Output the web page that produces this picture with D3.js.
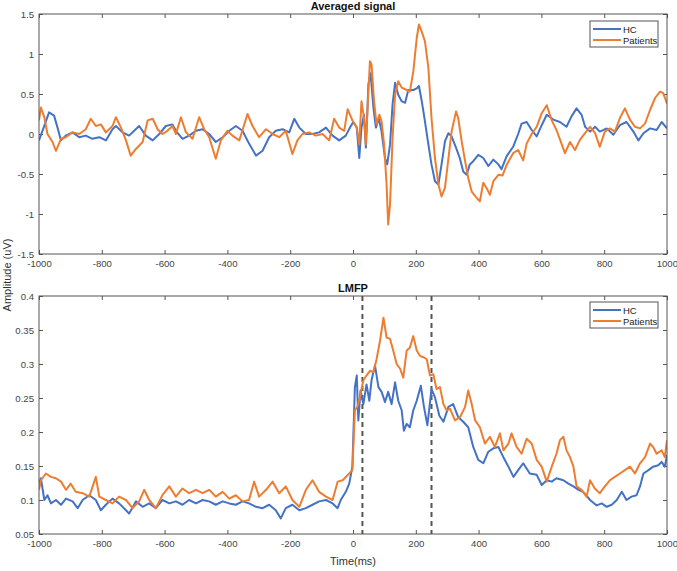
<!DOCTYPE html>
<html><head><meta charset="utf-8">
<script src="https://cdn.jsdelivr.net/npm/d3@7"></script>
<style>body{margin:0;background:#fff;}svg{display:block;font-family:"Liberation Sans",Arial,sans-serif;}</style>
</head><body><svg id="c" width="677" height="571"></svg>
<script>
// ---------- DATA ----------
const xTicks = [-1000,-800,-600,-400,-200,0,200,400,600,800,1000];
const topYTicks = [-1.5,-1,-0.5,0,0.5,1,1.5];
const botYTicks = [0.05,0.1,0.15,0.2,0.25,0.3,0.35,0.4];
const seriesNames = ["HC","Patients"];
const markerTimes = [30,250];

const topHC_t = [-1000,-989,-968,-952,-941,-930,-915,-893,-872,-851,-830,-808,-787,-766,-755,-734,-713,-692,-681,-660,-638,-617,-596,-575,-564,-543,-522,-500,-479,-458,-437,-415,-394,-373,-352,-331,-309,-288,-267,-246,-224,-203,-187,-171,-150,-129,-108,-86,-65,-44,-23,-7,1,12,20,27,35,41,49,56,65,73,82,91,102,109,118,126,134,144,155,166,176,192,203,210,219,229,240,250,261,272,282,293,304,314,328,340,351,362,372,383,399,415,431,447,463,473,489,510,526,537,553,569,585,601,617,638,659,680,696,712,728,739,755,771,786,808,829,850,871,893,909,925,946,967,983,1000];
const topHC_v = [-0.08,0.04,0.27,0.23,0.08,-0.08,-0.02,0.02,-0.04,-0.02,-0.06,-0.04,-0.08,0.06,0.10,0.02,-0.02,0.06,0.10,-0.02,-0.08,0.0,0.10,0.12,0.04,-0.06,-0.02,0.04,0.06,0.0,-0.10,-0.04,0.04,0.10,0.04,-0.12,-0.27,-0.21,-0.04,0.04,0.06,0.02,0.19,0.08,0.0,0.0,0.02,0.08,-0.02,-0.08,-0.02,0.10,0.15,0.08,-0.30,0.08,0.24,-0.17,0.62,0.76,0.33,0.08,0.20,0.03,-0.30,-0.38,-0.13,0.37,0.64,0.49,0.41,0.39,0.55,0.55,0.57,0.60,0.41,0.16,-0.13,-0.38,-0.59,-0.63,-0.38,-0.09,0.01,-0.03,-0.17,-0.30,-0.47,-0.51,-0.38,-0.34,-0.26,-0.30,-0.40,-0.32,-0.38,-0.44,-0.28,-0.16,0.0,0.13,0.15,0.05,-0.03,0.11,0.24,0.18,0.15,0.09,0.22,0.32,0.24,0.09,0.03,0.09,0.03,0.07,-0.01,0.11,0.15,0.03,-0.08,0.01,0.07,0.05,0.15,0.07];

const topPT_t = [-1000,-994,-983,-973,-957,-946,-930,-915,-893,-872,-851,-835,-819,-803,-787,-766,-755,-739,-723,-708,-692,-670,-654,-638,-622,-607,-591,-575,-564,-548,-532,-511,-490,-474,-458,-437,-421,-400,-384,-362,-336,-320,-299,-277,-256,-235,-214,-193,-177,-161,-140,-118,-97,-76,-60,-44,-28,-17,-2,12,20,27,35,41,49,54,59,67,75,84,91,99,107,112,118,126,134,144,155,171,181,192,203,210,219,229,240,250,261,272,282,293,304,314,328,335,346,357,367,378,394,404,415,426,436,447,463,476,490,510,526,542,553,569,585,601,617,633,648,664,675,691,707,723,739,755,771,786,802,818,834,850,866,882,898,914,930,946,962,978,988,1000];
const topPT_v = [0.17,0.33,0.21,0.0,-0.10,-0.21,-0.06,-0.04,0.02,0.0,0.06,0.19,0.10,0.12,0.02,0.10,0.21,0.08,-0.08,-0.27,-0.19,-0.10,0.17,0.19,0.06,0.0,0.04,0.10,0.0,0.21,0.02,-0.06,0.21,0.06,-0.04,-0.31,-0.08,0.04,-0.02,-0.08,0.25,0.10,-0.04,0.06,0.0,-0.04,0.04,-0.25,-0.08,0.0,0.02,-0.02,0.0,-0.08,0.19,0.08,0.04,0.31,0.17,0.08,-0.13,0.41,0.20,-0.13,0.53,0.91,0.87,0.41,0.12,0.24,0.16,-0.13,-0.63,-1.13,-0.88,-0.05,0.49,0.66,0.58,0.55,0.53,0.78,1.20,1.37,1.28,1.16,0.83,0.20,-0.30,-0.63,-0.78,-0.67,-0.30,0.03,0.28,0.20,-0.09,-0.34,-0.55,-0.72,-0.80,-0.84,-0.61,-0.68,-0.76,-0.59,-0.51,-0.52,-0.38,-0.24,-0.20,-0.33,-0.12,0.0,0.09,0.26,0.36,0.17,0.05,-0.12,-0.24,-0.10,-0.20,-0.07,0.01,0.09,0.01,-0.16,0.03,0.07,0.03,0.20,0.32,0.18,0.09,0.07,0.13,0.30,0.45,0.53,0.51,0.38];

const botHC_t = [-1000,-994,-983,-973,-962,-946,-930,-914,-893,-877,-861,-840,-819,-803,-787,-766,-745,-723,-713,-691,-670,-649,-628,-607,-585,-564,-543,-522,-500,-479,-458,-437,-415,-394,-373,-352,-331,-309,-288,-267,-246,-230,-214,-193,-171,-150,-129,-108,-86,-65,-49,-39,-23,-12,-2,6,12,17,24,33,43,52,59,70,81,91,102,112,123,134,144,155,162,171,181,192,203,216,226,237,250,261,275,288,304,319,335,351,367,383,399,415,431,447,463,479,495,511,526,542,563,585,601,617,633,648,670,686,702,718,733,755,776,792,808,824,840,856,871,887,903,914,925,941,956,972,983,993,1000];
const botHC_v = [0.124,0.132,0.100,0.107,0.095,0.100,0.093,0.102,0.098,0.088,0.100,0.107,0.100,0.085,0.093,0.102,0.095,0.085,0.080,0.098,0.090,0.095,0.088,0.100,0.095,0.098,0.093,0.100,0.095,0.100,0.098,0.093,0.098,0.095,0.093,0.098,0.095,0.090,0.088,0.093,0.085,0.073,0.088,0.093,0.085,0.088,0.093,0.098,0.100,0.095,0.088,0.100,0.112,0.124,0.149,0.266,0.283,0.217,0.261,0.241,0.270,0.246,0.276,0.298,0.266,0.259,0.244,0.259,0.241,0.273,0.246,0.232,0.202,0.212,0.207,0.232,0.246,0.268,0.237,0.210,0.263,0.251,0.224,0.215,0.237,0.241,0.222,0.215,0.207,0.178,0.159,0.154,0.171,0.176,0.178,0.163,0.149,0.134,0.144,0.154,0.139,0.137,0.122,0.129,0.127,0.132,0.129,0.124,0.120,0.115,0.112,0.100,0.092,0.095,0.090,0.093,0.100,0.112,0.100,0.105,0.107,0.120,0.139,0.144,0.149,0.151,0.156,0.149,0.166];

const botPT_t = [-1000,-994,-978,-962,-946,-930,-914,-899,-883,-861,-840,-819,-808,-787,-766,-745,-723,-702,-681,-665,-649,-628,-607,-585,-564,-543,-522,-500,-479,-458,-437,-415,-394,-373,-352,-331,-315,-299,-277,-256,-235,-214,-193,-171,-150,-129,-108,-86,-65,-49,-33,-12,-2,6,14,22,33,43,54,65,75,86,97,107,118,128,139,150,160,171,181,192,203,213,224,235,245,256,266,277,288,298,309,325,341,357,367,378,389,404,420,436,452,468,479,495,505,521,537,553,569,585,601,617,633,648,659,670,680,691,702,712,728,744,755,770,786,802,818,834,850,866,882,898,914,930,946,956,967,983,993,1000];
const botPT_v = [0.115,0.129,0.139,0.134,0.132,0.127,0.115,0.124,0.112,0.110,0.105,0.134,0.105,0.100,0.095,0.105,0.100,0.088,0.098,0.115,0.100,0.088,0.107,0.120,0.105,0.117,0.110,0.115,0.110,0.115,0.105,0.112,0.102,0.107,0.098,0.100,0.127,0.105,0.115,0.127,0.110,0.120,0.100,0.090,0.115,0.129,0.112,0.105,0.100,0.127,0.129,0.139,0.144,0.232,0.237,0.251,0.276,0.283,0.290,0.288,0.307,0.334,0.368,0.339,0.337,0.320,0.300,0.293,0.280,0.320,0.324,0.341,0.320,0.312,0.310,0.307,0.283,0.285,0.263,0.266,0.241,0.232,0.234,0.217,0.222,0.237,0.261,0.241,0.217,0.207,0.183,0.193,0.178,0.198,0.173,0.183,0.198,0.178,0.168,0.190,0.183,0.159,0.149,0.127,0.149,0.168,0.188,0.193,0.173,0.163,0.149,0.120,0.115,0.105,0.129,0.117,0.110,0.120,0.129,0.134,0.139,0.144,0.149,0.139,0.154,0.163,0.183,0.178,0.168,0.173,0.163,0.188];

// ---------- DRAW ----------
const colors = ["#4472C4","#ED7D31"];
const svg = d3.select("#c");
const L = 39, R = 667;
const x = d3.scaleLinear().domain([-1000,1000]).range([L,R]);

function panel(top, bottom, ydom, yticks, title, data, markers, legY){
  const y = d3.scaleLinear().domain(ydom).range([bottom, top]);
  const g = svg.append("g");
  const clipId = "clip" + Math.round(top);
  svg.append("clipPath").attr("id", clipId).append("rect")
    .attr("x", L).attr("y", top).attr("width", R-L).attr("height", bottom-top);
  const fmt = d => String(d);
  const axStyle = sel => {
    sel.selectAll(".domain").remove();
    sel.selectAll("line").attr("stroke","#555").attr("stroke-width",1);
    sel.selectAll("text").attr("fill","#444").style("font-size","9.6px").style("font-family","Liberation Sans, Arial, sans-serif");
  };
  const xb = g.append("g").attr("transform",`translate(0,${bottom})`)
    .call(d3.axisBottom(x).tickValues(xTicks).tickSizeInner(-4).tickSizeOuter(0).tickPadding(6).tickFormat(fmt)).call(axStyle);
  // keep the last label ("1000") inside the canvas
  xb.selectAll(".tick").filter(d => d === 1000).select("text").attr("text-anchor","end").attr("dx","10.5");
  g.append("g").attr("transform",`translate(0,${top})`)
    .call(d3.axisTop(x).tickValues(xTicks).tickSizeInner(-4).tickSizeOuter(0).tickFormat("")).call(axStyle);
  g.append("g").attr("transform",`translate(${L},0)`)
    .call(d3.axisLeft(y).tickValues(yticks).tickSizeInner(-4).tickSizeOuter(0).tickPadding(5).tickFormat(fmt)).call(axStyle);
  g.append("g").attr("transform",`translate(${R},0)`)
    .call(d3.axisRight(y).tickValues(yticks).tickSizeInner(-4).tickSizeOuter(0).tickFormat("")).call(axStyle);
  markers.forEach(m => {
    g.append("line").attr("x1",x(m)).attr("x2",x(m)).attr("y1",top).attr("y2",bottom)
      .attr("stroke","#555").attr("stroke-width",2).attr("stroke-dasharray","5,4");
  });
  const line = d3.line().x(d=>x(d[0])).y(d=>y(d[1]));
  const lg = g.append("g").attr("clip-path",`url(#${clipId})`);
  data.forEach((s,i) => {
    const pts = s.t.map((t,k)=>[t, s.v[k]]);
    lg.append("path").datum(pts).attr("d", line).attr("fill","none")
      .attr("stroke", colors[i]).attr("stroke-width",2).attr("stroke-linejoin","round");
  });
  g.append("rect").attr("x",L).attr("y",top).attr("width",R-L).attr("height",bottom-top)
    .attr("fill","none").attr("stroke","#555").attr("stroke-width",1);
  svg.append("text").attr("x",(L+R)/2).attr("y",top-4).attr("text-anchor","middle")
    .style("font-size","11px").style("font-weight","bold").attr("fill","#111").text(title);
  const lgd = svg.append("g");
  lgd.append("rect").attr("x",590).attr("y",legY).attr("width",68).attr("height",26)
    .attr("fill","#fff").attr("stroke","#555").attr("stroke-width",1);
  seriesNames.forEach((n,i) => {
    const yy = legY + 8 + i*11;
    lgd.append("line").attr("x1",593).attr("x2",621).attr("y1",yy).attr("y2",yy)
      .attr("stroke",colors[i]).attr("stroke-width",2);
    lgd.append("text").attr("x",623).attr("y",yy+3.5).style("font-size","9.5px").attr("fill","#222").text(n);
  });
}

panel(14, 254, [-1.5,1.5], topYTicks, "Averaged signal",
  [{t:topHC_t, v:topHC_v},{t:topPT_t, v:topPT_v}], [], 21);
panel(296, 534, [0.05,0.4], botYTicks, "LMFP",
  [{t:botHC_t, v:botHC_v},{t:botPT_t, v:botPT_v}], markerTimes, 302);

svg.append("text").attr("transform","translate(11,275) rotate(-90)").attr("text-anchor","middle")
  .style("font-size","11px").attr("fill","#333").text("Amplitude (uV)");
svg.append("text").attr("x",353).attr("y",565).attr("text-anchor","middle")
  .style("font-size","11px").attr("fill","#333").text("Time(ms)");
</script></body></html>
